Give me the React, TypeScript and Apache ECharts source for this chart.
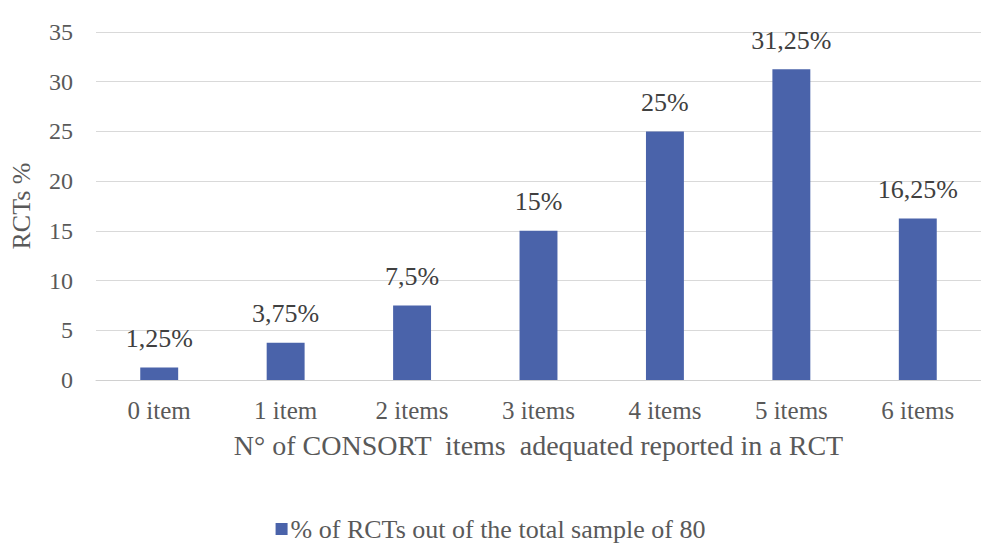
import React, { useEffect, useRef } from "react";
import * as echarts from "echarts";

const categories = ["0 item", "1 item", "2 items", "3 items", "4 items", "5 items", "6 items"];
const values = [1.25, 3.75, 7.5, 15, 25, 31.25, 16.25];
const seriesName = "% of RCTs out of the total sample of 80";
const xTitle = "N° of CONSORT  items  adequated reported in a RCT";
const yTitle = "RCTs %";

const FONT = "'Liberation Serif', 'DejaVu Serif', serif";
const TXT = "#595959";

export default function App() {
  const ref = useRef<HTMLDivElement>(null);
  useEffect(() => {
    document.body.style.margin = "0";
    const chart = echarts.init(ref.current!, null, { renderer: "svg" });
    chart.setOption({
      animation: false,
      backgroundColor: "#ffffff",
      textStyle: { fontFamily: FONT, color: TXT },
      grid: { left: 95, top: 32, width: 894, bottom: 163 },
      legend: {
        data: [seriesName],
        left: "center",
        top: 511,
        icon: "rect",
        itemWidth: 12,
        itemHeight: 12,
        itemGap: 8,
        textStyle: { fontFamily: FONT, color: TXT, fontSize: 26, padding: [0, 0, 0, -2] },
      },
      xAxis: {
        type: "category",
        data: categories,
        name: xTitle,
        nameLocation: "middle",
        nameGap: 51,
        nameTextStyle: { fontFamily: FONT, color: TXT, fontSize: 28 },
        axisTick: { show: false },
        axisLine: { lineStyle: { color: "#d0d0d0" } },
        axisLabel: { margin: 18, fontFamily: FONT, color: TXT, fontSize: 25 },
      },
      yAxis: {
        type: "value",
        min: 0,
        max: 35,
        interval: 5,
        name: yTitle,
        nameLocation: "middle",
        nameGap: 62,
        nameTextStyle: { fontFamily: FONT, color: TXT, fontSize: 26 },
        axisLine: { show: false },
        axisTick: { show: false },
        axisLabel: { margin: 23, fontFamily: FONT, color: TXT, fontSize: 24 },
        splitLine: { lineStyle: { color: "#d9d9d9" } },
      },
      series: [
        {
          name: seriesName,
          type: "bar",
          data: values,
          barWidth: "30%",
          itemStyle: { color: "#4a63aa" },
          label: {
            show: true,
            position: "top",
            distance: 16,
            fontFamily: FONT,
            color: "#404040",
            fontSize: 26,
            formatter: (p: any) => String(p.value).replace(".", ",") + "%",
          },
        },
      ],
    });
    return () => chart.dispose();
  }, []);
  return <div ref={ref} style={{ width: 981, height: 543, position: "absolute", left: 0, top: 0 }} />;
}
